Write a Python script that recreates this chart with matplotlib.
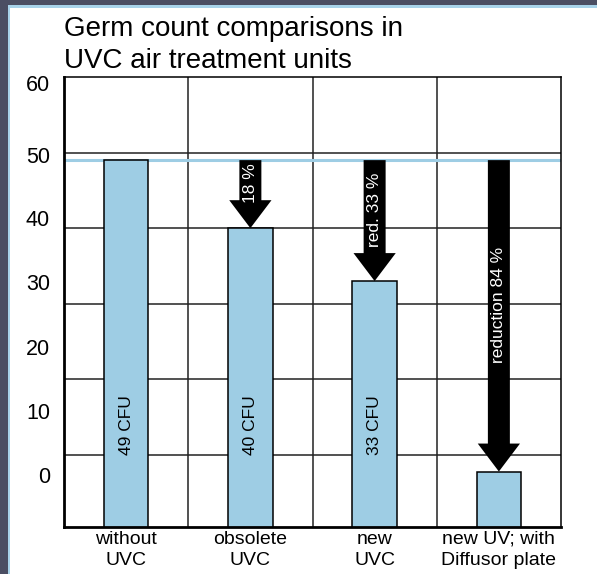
"""
Germ count comparison chart for UVC air treatment units
"""

import matplotlib
matplotlib.use('Agg')
import matplotlib.pyplot as plt
from matplotlib.patches import Rectangle

plt.rcParams['font.family'] = ['Liberation Sans', 'DejaVu Sans']

# data
categories = ['without\nUVC', 'obsolete\nUVC', 'new\nUVC', 'new UV; with\nDiffusor plate']
cfu = [49, 40, 33, 7.8]
bar_labels = ['49 CFU', '40 CFU', '33 CFU', '']
arrow_labels = ['', '18 %', 'red. 33 %', 'reduction 84 %']
ytick_labels = ['0', '10', '20', '30', '40', '50', '60']
# the original prints its y labels slightly off the grid lines
ytick_label_pos = [7.3, 15.8, 24.3, 32.9, 41.3, 49.7, 59.2]
grid_levels = [10, 20, 30, 40, 50]
baseline = cfu[0]

BAR_COLOR = '#9ecde4'
LINE_COLOR = '#9ecde4'
BORDER_DARK = '#4b4e63'
BORDER_LIGHT = '#a8d3ea'

W, H = 597, 574
fig = plt.figure(figsize=(W / 100, H / 100), dpi=100)
fig.patch.set_facecolor('white')

# frame around the picture: dark band on left/top with a thin light-blue line
fig.patches.append(Rectangle((0, 0), 7.5 / W, 1, transform=fig.transFigure,
                             facecolor=BORDER_DARK, edgecolor='none', zorder=0))
fig.patches.append(Rectangle((0, 1 - 5.5 / H), 1, 5.5 / H, transform=fig.transFigure,
                             facecolor=BORDER_DARK, edgecolor='none', zorder=0))
fig.patches.append(Rectangle((7.5 / W, 0), 2.5 / W, 1 - 5.5 / H, transform=fig.transFigure,
                             facecolor=BORDER_LIGHT, edgecolor='none', zorder=0))
fig.patches.append(Rectangle((7.5 / W, 1 - 8 / H), 1, 2.5 / H, transform=fig.transFigure,
                             facecolor=BORDER_LIGHT, edgecolor='none', zorder=0))

ax = fig.add_axes([64 / W, (H - 526.7) / H, 497 / W, 449.7 / H])
ax.set_xlim(-0.5, len(categories) - 0.5)
ax.set_ylim(0.5, 60)

# grid
for lv in grid_levels:
    ax.axhline(lv, color='#222222', linewidth=1.1, zorder=1)
for i in range(len(categories) - 1):
    ax.axvline(i + 0.5, color='#222222', linewidth=1.1, zorder=1)

# reference line at the untreated level
ax.axhline(baseline, color=LINE_COLOR, linewidth=2.2, zorder=2)

x = list(range(len(categories)))
ax.bar(x, cfu, width=0.36, color=BAR_COLOR, edgecolor='black', linewidth=1.1, zorder=3)

for xi, lab in zip(x, bar_labels):
    if lab:
        ax.text(xi, 14, lab, rotation=90, ha='center', va='center',
                fontsize=12.5, color='black', zorder=5)

# reduction arrows
shaft_w = 0.177
head_w = 0.34
head_len = 3.7
for xi, v, lab in zip(x, cfu, arrow_labels):
    if not lab:
        continue
    hb = v + head_len
    xs = [xi - shaft_w / 2, xi + shaft_w / 2, xi + shaft_w / 2, xi + head_w / 2,
          xi, xi - head_w / 2, xi - shaft_w / 2]
    ys = [baseline, baseline, hb, hb, v, hb, hb]
    ax.fill(xs, ys, color='black', linewidth=0, zorder=4)
    ax.text(xi, (baseline + hb) / 2 - 0.45, lab, rotation=90, ha='center', va='center',
            fontsize=12.5, color='white', zorder=5)

ax.set_xticks(x)
ax.set_xticklabels(categories, fontsize=14, linespacing=1.3)
ax.set_yticks(ytick_label_pos)
ax.set_yticklabels(ytick_labels, fontsize=15.5)
ax.tick_params(axis='both', length=0)
ax.tick_params(axis='y', pad=10)
ax.tick_params(axis='x', pad=3)

for side in ['left', 'bottom']:
    ax.spines[side].set_linewidth(2)
for side in ['top', 'right']:
    ax.spines[side].set_linewidth(1.1)
for sp in ax.spines.values():
    sp.set_zorder(6)

fig.text(64 / W, 1 - 16 / H, 'Germ count comparisons in\nUVC air treatment units',
         ha='left', va='top', fontsize=20, linespacing=1.3)

fig.savefig('out.png', dpi=100, facecolor='white')
plt.close(fig)
